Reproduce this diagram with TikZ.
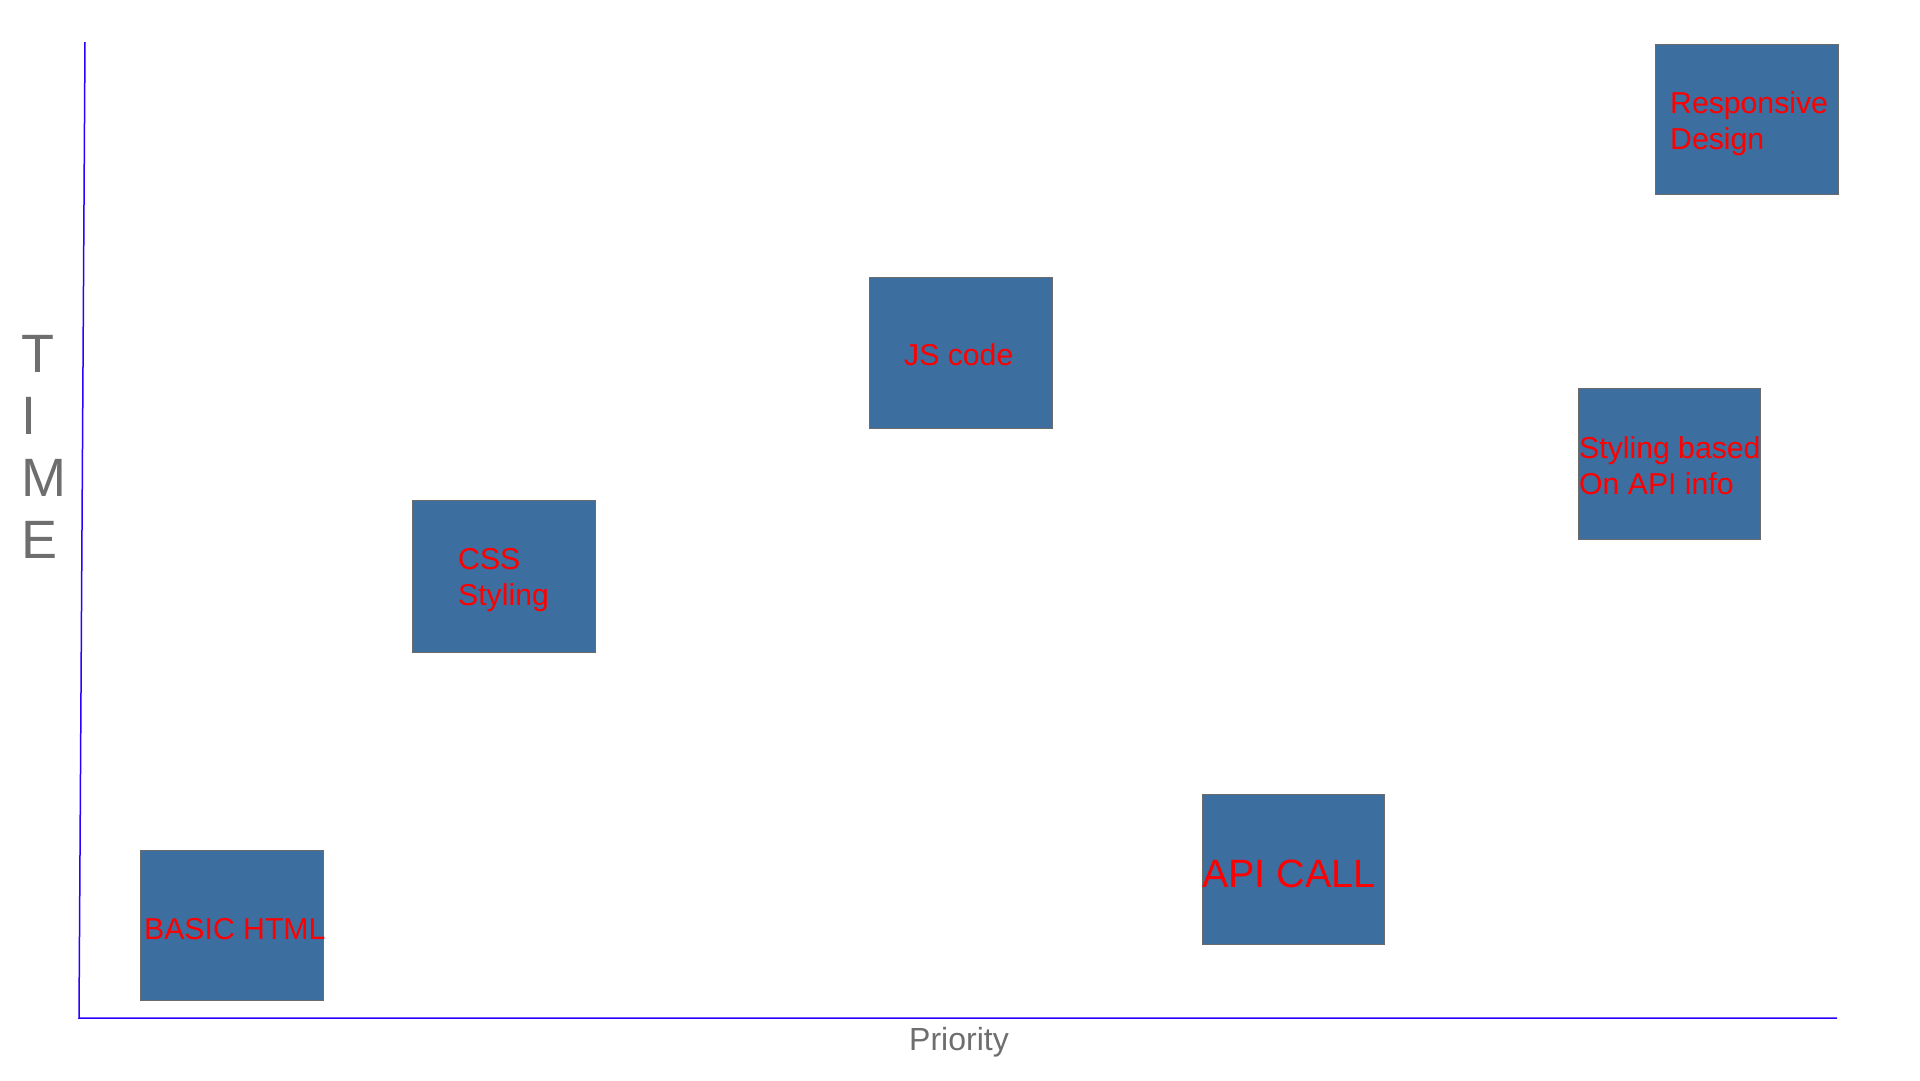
\documentclass[tikz,border=0pt]{standalone}
\usepackage{fontspec}
\setmainfont{Liberation Sans}
\definecolor{boxfill}{HTML}{3C6EA0}
\definecolor{boxline}{HTML}{6B6B6B}
\definecolor{axisblue}{HTML}{2A00FF}
\definecolor{labelgray}{HTML}{6E6E6E}
\begin{document}
\begin{tikzpicture}[x=1pt,y=-1pt,
  task/.style={draw=boxline,line width=1pt,fill=boxfill},
  tasktext/.style={anchor=base west,inner sep=0pt,text=red,font=\fontsize{30.2}{36}\selectfont},
  axislabel/.style={anchor=base west,inner sep=0pt,text=labelgray},
  axisline/.style={draw=axisblue,line width=1.5pt}]
\useasboundingbox[fill=white] (0,0) rectangle (1920,1080);
% axes
\coordinate (ytop) at (85,42);
\coordinate (origin) at (79,1018);
\coordinate (xend) at (1837,1018);
\draw[axisline] (ytop) -- (origin) -- (xend);
% boxes
\path[task] (140,850) rectangle (323,1000) coordinate (htmlbox);
\path[task] (412,500) rectangle (595,652) coordinate (cssbox);
\path[task] (869,277) rectangle (1052,428) coordinate (jsbox);
\path[task] (1202,794) rectangle (1384,944) coordinate (apibox);
\path[task] (1578,388) rectangle (1760,539) coordinate (stylbox);
\path[task] (1655,44) rectangle (1838,194) coordinate (respbox);
% labels
\node[tasktext] (html) at (144,939) {BASIC HTML};
\node[tasktext] (css) at (458,569) {\begin{tabular}[t]{@{}l@{}}CSS\\Styling\end{tabular}};
\node[tasktext] (js) at (904,365) {JS code};
\node[tasktext,font=\fontsize{39.5}{46}\selectfont] (api) at (1202,887) {API CALL};
\node[tasktext] (styl) at (1579,458) {\begin{tabular}[t]{@{}l@{}}Styling based\\On API info\end{tabular}};
\node[tasktext] (resp) at (1670,113) {\begin{tabular}[t]{@{}l@{}}Responsive\\Design\end{tabular}};
% axis labels
\node[axislabel,font=\fontsize{54}{62}\selectfont] (time) at (21,372) {\begin{tabular}[t]{@{}l@{}}T\\I\\M\\E\end{tabular}};
\node[axislabel,font=\fontsize{32}{38}\selectfont] (prio) at (909,1050) {Priority};
\end{tikzpicture}
\end{document}
